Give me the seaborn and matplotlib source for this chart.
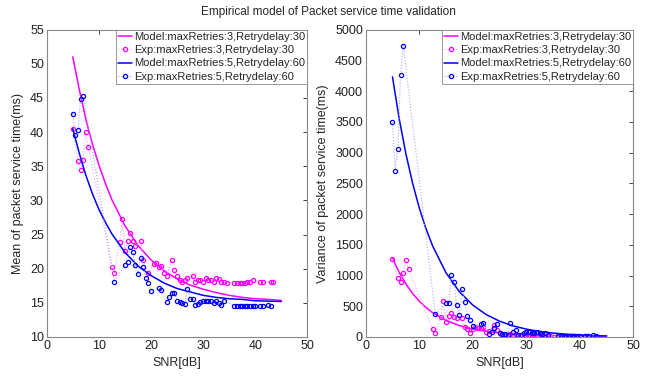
import matplotlib
matplotlib.use("Agg")
import matplotlib.pyplot as plt
import seaborn as sns
import pandas as pd

# ---------------- data ----------------
# Model curves (SNR in dB)
model_snr = [5, 6.25, 7.5, 8.75, 10, 11.25, 12.5, 15, 17.5, 20, 22.5, 25,
             27.5, 30, 32.5, 35, 37.5, 40, 42.5, 45]
mean_model_r3 = [51.0, 46.2, 41.9, 38.3, 35.2, 32.5, 30.1, 26.3, 23.4, 21.3,
                 19.7, 18.5, 17.6, 17.0, 16.5, 16.1, 15.8, 15.6, 15.5, 15.35]
mean_model_r5 = [40.5, 36.9, 33.7, 31.0, 28.7, 26.8, 25.1, 22.4, 20.4, 19.0,
                 17.9, 17.1, 16.6, 16.1, 15.8, 15.6, 15.5, 15.3, 15.25, 15.2]
var_model_r3 = [1280, 1051, 863, 709, 583, 480, 396, 271, 186, 130, 92, 67,
                50, 38, 31, 25, 22, 20, 18, 17]
var_model_r5 = [4230, 3551, 2981, 2503, 2101, 1763, 1481, 1044, 736, 519,
                365, 257, 181, 128, 90, 64, 45, 32, 22, 16]

# Experiments, maxRetries 3 / Retrydelay 30 -- mean
mean_exp_r3_snr = [5, 6, 6.5, 7, 7.5, 8, 12.5, 13, 14, 14.5, 15, 15.5, 16, 16.5,
                   17, 18, 18.5, 19.5, 20.5, 21, 21.5, 22, 22.5, 23, 24, 24.5,
                   25, 25.5, 26, 26.5, 27, 28, 28.5, 29, 29.5, 30, 30.5, 31,
                   31.5, 32, 32.5, 33, 33.5, 34, 34.5, 36, 36.5, 37, 37.5, 38,
                   38.5, 39, 39.5, 41, 41.5, 43, 43.5]
mean_exp_r3 = [40.4, 35.7, 34.5, 35.9, 40.0, 37.8, 20.2, 19.3, 23.9, 27.2, 22.6,
               24.0, 25.2, 24.0, 23.3, 24.0, 21.3, 19.3, 20.7, 20.8, 20.3, 20.4,
               19.4, 18.9, 21.2, 19.8, 19.0, 18.3, 18.1, 18.3, 18.6, 19.0, 18.1,
               18.3, 18.4, 18.1, 18.7, 18.4, 18.3, 18.0, 18.6, 18.5, 18.1, 18.0,
               17.9, 17.9, 17.9, 17.9, 17.9, 17.9, 18.0, 18.1, 18.4, 18.0, 18.0,
               18.0, 18.0]

# Experiments, maxRetries 5 / Retrydelay 60 -- mean
mean_exp_r5_snr = [5, 5.5, 6, 6.5, 7, 13, 15, 15.5, 16, 16.5, 17, 17.5, 18,
                   18.5, 19, 19.5, 20, 21.5, 22, 23, 23.5, 24, 24.5, 25, 25.5,
                   26, 26.5, 27, 27.5, 28, 28.5, 29, 29.5, 30, 30.5, 31, 31.5,
                   32, 32.5, 33, 33.5, 34, 36, 36.5, 37, 37.5, 38, 38.5, 39,
                   39.5, 40, 41, 41.5, 42.5, 43]
mean_exp_r5 = [42.7, 39.6, 40.3, 44.9, 45.2, 18.1, 20.6, 21.0, 23.1, 22.5, 20.6,
               19.2, 21.5, 20.2, 18.7, 17.9, 16.8, 17.1, 16.9, 15.1, 15.8, 16.45,
               16.45, 15.3, 15.1, 15.0, 14.9, 17.0, 15.5, 15.6, 14.75, 14.9,
               15.1, 15.2, 15.3, 15.3, 15.2, 15.0, 15.2, 15.0, 14.75, 15.2,
               14.6, 14.6, 14.6, 14.6, 14.6, 14.6, 14.6, 14.6, 14.6, 14.6, 14.6,
               14.75, 14.6]

# Experiments -- variance
var_exp_r3_snr = [5, 6, 6.5, 7, 7.5, 8, 12.5, 13, 14, 14.5, 15, 15.5, 16, 16.5,
                  17, 18, 18.5, 19, 19.5, 20, 20.5, 21, 21.5, 22, 22.5, 23, 24,
                  24.5, 25, 25.5, 26, 26.5, 27, 27.5, 28, 28.5, 29, 29.5, 30,
                  30.5, 31, 31.5, 32, 32.5, 33, 33.5, 34, 34.5, 36, 36.5, 37,
                  37.5, 38, 38.5, 39, 39.5, 41, 41.5, 43, 43.5]
var_exp_r3 = [1271, 953, 898, 1034, 1250, 1104, 125, 60, 330, 589, 248, 341,
              385, 330, 304, 313, 157, 125, 70, 125, 167, 141, 150, 167, 76, 90,
              190, 108, 60, 40, 30, 25, 50, 30, 25, 20, 35, 25, 20, 30, 25, 35,
              20, 25, 15, 20, 15, 10, 8, 8, 8, 8, 8, 8, 10, 20, 10, 10, 10, 8]
var_exp_r5_snr = [5, 5.5, 6, 6.5, 7, 13, 15, 15.5, 16, 16.5, 17, 17.5, 18,
                  18.5, 19, 19.5, 20, 21.5, 22, 23, 23.5, 24, 24.5, 25, 25.5,
                  26, 26.5, 27, 27.5, 28, 28.5, 29, 29.5, 30, 30.5, 31, 31.5,
                  32, 32.5, 33, 33.5, 34, 36, 36.5, 37, 37.5, 38, 38.5, 39,
                  39.5, 40, 41, 41.5, 42.5, 43]
var_exp_r5 = [3490, 2706, 3057, 4253, 4740, 373, 557, 547, 1006, 898, 519, 357,
              784, 573, 341, 276, 179, 211, 222, 44, 86, 141, 211, 70, 54, 44,
              40, 222, 86, 108, 32, 35, 60, 76, 86, 70, 60, 86, 60, 44, 60, 30,
              12, 12, 12, 12, 12, 12, 12, 12, 12, 20, 15, 30, 10]

labels = ["Model:maxRetries:3,Retrydelay:30", "Exp:maxRetries:3,Retrydelay:30",
          "Model:maxRetries:5,Retrydelay:60", "Exp:maxRetries:5,Retrydelay:60"]
x_ticks = [0, 10, 20, 30, 40, 50]
mean_ticks = [10, 15, 20, 25, 30, 35, 40, 45, 50, 55]
var_ticks = [0, 500, 1000, 1500, 2000, 2500, 3000, 3500, 4000, 4500, 5000]

# ---------------- style ----------------
sns.set_style("white")
plt.rcParams["font.family"] = ["Liberation Sans", "DejaVu Sans"]
plt.rcParams["xtick.direction"] = "in"
plt.rcParams["ytick.direction"] = "in"

MAG = "#ff00ff"
BLU = "#0000ff"
MAG_L = "#ffa0ff"
BLU_L = "#a8a8ff"

fig = plt.figure(figsize=(6.56, 3.81), dpi=100)
ax1 = fig.add_axes([0.0712, 0.1155, 0.3973, 0.807])
ax2 = fig.add_axes([0.5575, 0.1155, 0.408, 0.807])


def draw(ax, m3, e3x, e3, m5, e5x, e5):
    sns.lineplot(x=model_snr, y=m3, ax=ax, color=MAG, lw=1.1, label=labels[0],
                 estimator=None, sort=False)
    sns.lineplot(x=e3x, y=e3, ax=ax, color=MAG_L, lw=0.8, ls=":", marker="o",
                 markersize=3.0, markerfacecolor="none", markeredgecolor=MAG,
                 markeredgewidth=0.9, label=labels[1], estimator=None, sort=False)
    sns.lineplot(x=model_snr, y=m5, ax=ax, color=BLU, lw=1.1, label=labels[2],
                 estimator=None, sort=False)
    sns.lineplot(x=e5x, y=e5, ax=ax, color=BLU_L, lw=0.8, ls=":", marker="o",
                 markersize=3.0, markerfacecolor="none", markeredgecolor=BLU,
                 markeredgewidth=0.9, label=labels[3], estimator=None, sort=False)
    ax.set_xlim(0, 50)
    ax.set_xticks(x_ticks)
    ax.set_xlabel("SNR[dB]", fontsize=9)
    ax.tick_params(labelsize=9, length=3, width=0.6, top=True, right=True,
                   colors="#222222", pad=2)
    for s in ax.spines.values():
        s.set_color("#888888")
        s.set_linewidth(0.8)
    leg = ax.legend(loc="upper right", fontsize=8, borderaxespad=0,
                    handlelength=1.25, handletextpad=0.15, labelspacing=0.3,
                    borderpad=0.2, fancybox=False, framealpha=1)
    leg.get_frame().set_edgecolor("#888888")
    leg.get_frame().set_linewidth(0.6)


draw(ax1, mean_model_r3, mean_exp_r3_snr, mean_exp_r3,
     mean_model_r5, mean_exp_r5_snr, mean_exp_r5)
ax1.set_ylim(10, 55)
ax1.set_yticks(mean_ticks)
ax1.set_ylabel("Mean of packet service time(ms)", fontsize=9)

draw(ax2, var_model_r3, var_exp_r3_snr, var_exp_r3,
     var_model_r5, var_exp_r5_snr, var_exp_r5)
ax2.set_ylim(0, 5000)
ax2.set_yticks(var_ticks)
ax2.set_ylabel("Variance of packet service time(ms)", fontsize=9)

fig.suptitle("Empirical model of Packet service time validation", fontsize=8.5,
             y=0.985, va="top")

fig.savefig("out.png", dpi=100)
